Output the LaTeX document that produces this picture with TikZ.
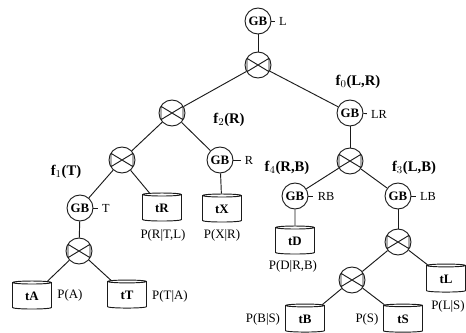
\documentclass[tikz,border=0pt]{standalone}
\usepackage{fontspec}
\setmainfont{Liberation Serif}
\usetikzlibrary{shapes.geometric}
\definecolor{Ink}{HTML}{1A1A1A}

\begin{document}
\begin{tikzpicture}[
  x=0.03cm,y=-0.03cm,
  font=\fontsize{10.5pt}{11pt}\selectfont,
  groupby/.style={draw=Ink,circle,minimum size=0.78cm,inner sep=0pt,line width=.8pt,
    font=\fontsize{11pt}{12pt}\selectfont\bfseries},
  joinop/.style={draw=Ink,circle,minimum size=0.78cm,inner sep=0pt,line width=.8pt,
    path picture={
      \draw[Ink,line width=.8pt]
        ([shift={(-.33cm,.2cm)}]path picture bounding box.center) --
        ([shift={(.33cm,-.2cm)}]path picture bounding box.center) --
        ([shift={(.33cm,.2cm)}]path picture bounding box.center) --
        ([shift={(-.33cm,-.2cm)}]path picture bounding box.center) -- cycle;}},
  dbtable/.style={draw=Ink,cylinder,shape border rotate=90,aspect=.22,
    minimum width=1.17cm,minimum height=.84cm,inner sep=0pt,line width=.8pt,
    font=\fontsize{11pt}{12pt}\selectfont\bfseries},
  flow/.style={draw=Ink,line width=.8pt},
  tick/.style={draw=Ink,line width=.8pt,shorten >=2.5pt},
  func/.style={font=\fontsize{12.5pt}{14pt}\selectfont\bfseries,inner sep=0pt},
  attr/.style={inner sep=1pt},
  prob/.style={font=\fontsize{11pt}{12pt}\selectfont,inner sep=0pt}
]
  \useasboundingbox (0,0) rectangle (466,333);

  \node[groupby] (gbL) at (258,21) {GB};
  \node[joinop] (jnL) at (258,65) {};
  \node[groupby] (gbLR) at (350,113) {GB};
  \node[joinop] (jnLR) at (350,161) {};
  \node[joinop] (jnR) at (172,113) {};
  \node[joinop] (jnT) at (122,160) {};
  \node[groupby] (gbR) at (220,160) {GB};
  \node[groupby] (gbT) at (80,208) {GB};
  \node[joinop] (jnA) at (79,251) {};
  \node[groupby] (gbRB) at (295,196) {GB};
  \node[groupby] (gbLB) at (398,196) {GB};
  \node[joinop] (jnLB) at (398,242) {};
  \node[joinop] (jnB) at (352,280) {};

  \node[dbtable] (tA) at (32,296) {tA};
  \node[dbtable] (tT) at (127,295) {tT};
  \node[dbtable] (tR) at (162,208) {tR};
  \node[dbtable] (tX) at (222,209) {tX};
  \node[dbtable] (tD) at (295,241) {tD};
  \node[dbtable] (tL) at (446,279) {tL};
  \node[dbtable] (tB) at (305,319) {tB};
  \node[dbtable] (tS) at (403,319) {tS};

  \node[attr] (labL) at (283,21) {L};
  \node[attr] (labLR) at (379,114) {LR};
  \node[attr] (labR) at (249,160) {R};
  \node[attr] (labT) at (106,208) {T};
  \node[attr] (labRB) at (326,196) {RB};
  \node[attr] (labLB) at (428,196) {LB};

  \node[func] at (358,82) {f$_0$(L,R)};
  \node[func] at (229,120) {f$_2$(R)};
  \node[func] at (66,172) {f$_1$(T)};
  \node[func] at (287,168) {f$_4$(R,B)};
  \node[func] at (414,168) {f$_3$(L,B)};

  \node[prob] at (163,235) {P(R|T,L)};
  \node[prob] at (222,235) {P(X|R)};
  \node[prob] at (70,295) {P(A)};
  \node[prob] at (170,296) {P(T|A)};
  \node[prob] at (293,266) {P(D|R,B)};
  \node[prob] at (448,306) {P(L|S)};
  \node[prob] at (263,319) {P(B|S)};
  \node[prob] at (367,319) {P(S)};

  \draw[flow] (gbL) -- (jnL);
  \draw[flow] (jnL) -- (jnR);
  \draw[flow] (jnL) -- (gbLR);
  \draw[flow] (gbLR) -- (jnLR);
  \draw[flow] (jnR) -- (jnT);
  \draw[flow] (jnR) -- (gbR);
  \draw[flow] (jnT) -- (gbT);
  \draw[flow] (jnT) -- (tR);
  \draw[flow] (gbR) -- (tX);
  \draw[flow] (gbT) -- (jnA);
  \draw[flow] (jnA) -- (tA);
  \draw[flow] (jnA) -- (tT);
  \draw[flow] (jnLR) -- (gbRB);
  \draw[flow] (jnLR) -- (gbLB);
  \draw[flow] (gbRB) -- (tD);
  \draw[flow] (gbLB) -- (jnLB);
  \draw[flow] (jnLB) -- (jnB);
  \draw[flow] (jnLB) -- (tL);
  \draw[flow] (jnB) -- (tB);
  \draw[flow] (jnB) -- (tS);

  \draw[tick] (gbL) -- (labL);
  \draw[tick] (gbLR) -- (labLR);
  \draw[tick] (gbR) -- (labR);
  \draw[tick] (gbT) -- (labT);
  \draw[tick] (gbRB) -- (labRB);
  \draw[tick] (gbLB) -- (labLB);
\end{tikzpicture}
\end{document}
